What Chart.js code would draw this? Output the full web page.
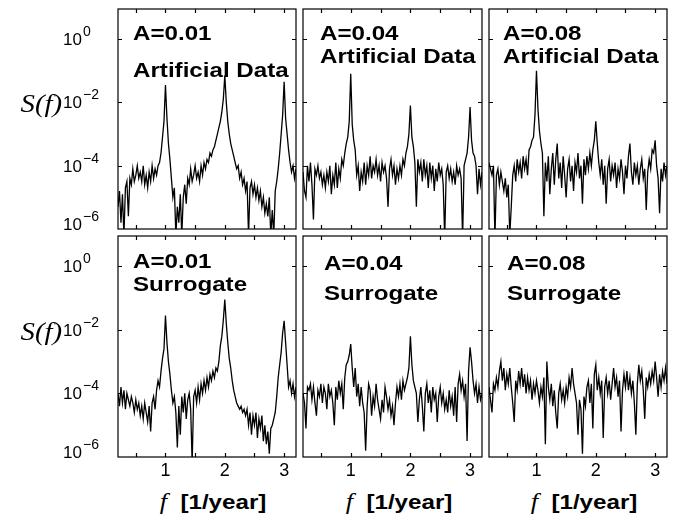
<!DOCTYPE html>
<html>
<head>
<meta charset="utf-8">
<script src="https://cdn.jsdelivr.net/npm/chart.js@4.4.1/dist/chart.umd.min.js"></script>
<style>
  html, body { margin: 0; padding: 0; background: #fff; }
  #wrap { position: relative; width: 675px; height: 518px; overflow: hidden; background: #fff; }
  canvas { position: absolute; }
  .note { position: absolute; font: bold 21px "Liberation Sans", Arial, sans-serif; line-height: 21px;
          white-space: nowrap; transform: scaleX(1.15); transform-origin: 0 0; color: #000; }
  .sf { position: absolute; font: italic 25px "Liberation Serif", serif; line-height: 25px;
        white-space: nowrap; transform: scaleX(1.15); transform-origin: 100% 0; color: #000; text-align: right; }
  .xt { position: absolute; width: 200px; text-align: center; font: bold 21px "Liberation Sans", Arial, sans-serif;
        line-height: 21px; white-space: nowrap; transform: scaleX(1.15); color: #000; }
  .xt i { font: italic 23px "Liberation Serif", serif; }
</style>
</head>
<body>
<div id="wrap"></div>
<script>
// frequency grid, 1/year
const freq = [
  0.200,0.225,0.250,0.275,0.300,0.325,0.350,0.375,0.400,0.425,
  0.450,0.475,0.500,0.525,0.550,0.575,0.600,0.625,0.650,0.675,
  0.700,0.725,0.750,0.775,0.800,0.825,0.850,0.875,0.900,0.925,
  0.950,0.975,1.000,1.025,1.050,1.075,1.100,1.125,1.150,1.175,
  1.200,1.225,1.250,1.275,1.300,1.325,1.350,1.375,1.400,1.425,
  1.450,1.475,1.500,1.525,1.550,1.575,1.600,1.625,1.650,1.675,
  1.700,1.725,1.750,1.775,1.800,1.825,1.850,1.875,1.900,1.925,
  1.950,1.975,2.000,2.025,2.050,2.075,2.100,2.125,2.150,2.175,
  2.200,2.225,2.250,2.275,2.300,2.325,2.350,2.375,2.400,2.425,
  2.450,2.475,2.500,2.525,2.550,2.575,2.600,2.625,2.650,2.675,
  2.700,2.725,2.750,2.775,2.800,2.825,2.850,2.875,2.900,2.925,
  2.950,2.975,3.000,3.025,3.050,3.075,3.100,3.125,3.150,3.175,
  3.200
];

// log10 S(f)
const artificial01 = [
  -5.3,-4.8,-5.8,-4.9,-6.2,-4.7,-4.5,-5.6,-4.4,-4.6,
  -4.1,-4.5,-4.3,-4.0,-4.4,-4.2,-4.5,-4.0,-4.6,-4.3,
  -4.7,-4.2,-4.5,-4.0,-4.4,-4.1,-4.3,-4.0,-3.9,-3.6,
  -3.1,-2.6,-1.45,-2.5,-3.3,-3.8,-4.4,-5.0,-4.7,-6.2,
  -5.3,-5.8,-4.9,-6.2,-5.0,-4.6,-5.2,-4.4,-4.6,-4.1,
  -4.5,-4.3,-4.0,-4.4,-4.2,-4.5,-4.0,-4.3,-3.9,-4.1,
  -3.8,-3.9,-3.6,-3.7,-3.5,-3.4,-3.2,-3.0,-2.8,-2.6,
  -2.3,-1.9,-1.15,-2.0,-2.6,-3.0,-3.3,-3.5,-3.7,-3.9,
  -4.1,-4.0,-4.4,-4.2,-4.6,-4.4,-4.8,-4.5,-6.2,-4.7,
  -4.5,-4.9,-4.6,-5.0,-4.7,-5.1,-4.8,-5.3,-5.0,-5.5,
  -5.2,-5.6,-5.0,-6.2,-5.4,-6.2,-4.8,-4.5,-4.1,-3.6,
  -3.0,-2.4,-1.35,-2.5,-3.0,-3.5,-3.9,-4.2,-4.0,-4.4,
  -4.1
];
const artificial04 = [
  -4.2,-4.8,-5.0,-4.0,-4.5,-3.9,-4.6,-5.7,-4.1,-4.3,
  -4.0,-4.4,-4.2,-4.6,-4.3,-4.7,-4.2,-4.5,-4.0,-4.9,
  -4.3,-4.6,-3.9,-4.7,-4.1,-4.4,-3.8,-4.0,-3.6,-3.3,
  -3.1,-2.6,-1.1,-2.7,-3.2,-3.5,-4.3,-4.0,-4.8,-4.2,
  -4.5,-3.9,-4.6,-4.0,-4.3,-3.7,-4.4,-4.0,-4.2,-3.8,
  -4.3,-4.0,-4.5,-3.9,-4.2,-4.0,-4.4,-5.3,-4.1,-3.8,
  -4.3,-4.0,-4.6,-4.1,-4.4,-4.0,-4.3,-3.8,-4.0,-3.6,
  -3.4,-3.0,-2.1,-3.1,-3.4,-3.9,-5.3,-3.8,-4.2,-3.9,
  -4.5,-3.8,-4.3,-4.0,-4.7,-3.9,-4.4,-4.0,-4.8,-4.1,
  -4.5,-3.9,-4.3,-4.1,-4.6,-6.3,-4.2,-4.0,-4.4,-4.1,
  -4.5,-4.2,-4.6,-4.0,-4.3,-4.1,-4.4,-6.3,-4.0,-3.8,
  -3.6,-3.1,-2.15,-3.2,-3.6,-3.7,-4.0,-4.9,-4.1,-4.6,
  -4.2
];
const artificial08 = [
  -3.9,-4.1,-4.3,-4.0,-6.3,-4.3,-4.1,-4.6,-4.2,-4.5,
  -4.8,-4.4,-5.0,-4.6,-6.2,-5.3,-4.3,-4.0,-4.5,-3.8,
  -4.2,-3.9,-4.4,-3.7,-4.1,-3.8,-4.3,-3.5,-3.4,-3.2,
  -3.1,-2.4,-1.0,-2.2,-2.9,-3.3,-3.6,-5.6,-3.9,-4.5,
  -3.7,-4.9,-4.1,-3.6,-4.6,-3.8,-3.3,-4.4,-3.9,-4.7,
  -3.7,-4.3,-5.0,-4.1,-3.8,-4.5,-4.0,-4.8,-3.9,-4.2,
  -3.6,-4.4,-4.0,-5.2,-3.8,-4.3,-3.7,-4.1,-3.6,-4.0,
  -3.5,-3.2,-2.6,-3.3,-3.9,-4.3,-3.8,-4.6,-4.0,-5.2,
  -4.1,-3.8,-4.5,-4.0,-4.3,-3.9,-4.7,-4.1,-4.4,-3.8,
  -4.2,-4.9,-4.0,-4.4,-3.7,-3.3,-4.2,-4.6,-3.9,-4.3,
  -4.0,-4.6,-4.1,-3.8,-4.4,-4.1,-5.4,-4.2,-3.8,-4.1,
  -3.5,-3.6,-3.2,-4.0,-4.4,-5.5,-4.1,-4.5,-3.9,-4.3,
  -4.0
];
const surrogate01 = [
  -4.0,-4.4,-3.8,-4.3,-3.9,-4.5,-4.0,-4.2,-4.4,-4.1,
  -4.3,-4.6,-4.2,-4.5,-4.3,-4.7,-4.4,-4.8,-4.3,-4.6,
  -4.9,-4.4,-5.2,-4.3,-4.1,-4.5,-3.9,-3.6,-3.8,-3.3,
  -2.9,-2.6,-1.55,-2.4,-3.0,-3.4,-3.9,-4.3,-4.1,-4.6,
  -5.7,-4.4,-5.3,-4.1,-4.6,-4.0,-4.8,-4.2,-4.0,-4.5,
  -6.2,-4.1,-3.9,-4.3,-3.8,-4.2,-3.7,-4.0,-3.6,-3.9,
  -3.5,-3.8,-3.4,-3.6,-3.3,-3.5,-3.2,-3.3,-3.0,-2.5,
  -2.2,-1.7,-1.05,-1.8,-2.4,-2.9,-3.2,-3.6,-3.9,-4.1,
  -4.3,-4.4,-4.5,-4.4,-4.6,-4.5,-4.7,-4.5,-5.0,-4.6,
  -5.3,-4.7,-5.0,-4.6,-5.4,-4.8,-5.1,-4.7,-5.5,-5.0,
  -5.6,-5.2,-5.9,-5.1,-5.0,-4.8,-4.6,-4.1,-3.5,-3.1,
  -2.7,-2.1,-1.72,-2.4,-3.1,-3.8,-3.6,-4.0,-3.7,-4.1,
  -3.8
];
const surrogate04 = [
  -4.0,-4.3,-5.1,-3.8,-3.9,-3.7,-4.2,-3.8,-4.3,-4.7,
  -3.9,-4.1,-3.7,-4.3,-3.8,-4.0,-4.5,-3.7,-4.1,-3.9,
  -4.3,-5.0,-3.8,-4.2,-3.6,-4.0,-3.7,-4.5,-3.5,-3.1,
  -3.0,-2.8,-2.45,-3.2,-3.8,-3.2,-4.1,-3.7,-4.4,-3.8,
  -4.3,-4.6,-5.8,-4.4,-3.7,-3.9,-4.7,-4.1,-4.4,-3.7,
  -4.2,-4.5,-4.8,-4.2,-4.6,-3.8,-4.1,-4.5,-4.2,-4.7,
  -4.4,-5.0,-4.3,-3.8,-4.1,-3.7,-4.2,-3.6,-3.9,-3.7,
  -3.5,-3.2,-2.2,-3.1,-3.6,-3.8,-4.0,-4.9,-4.2,-3.8,
  -4.4,-5.2,-4.0,-3.7,-4.3,-3.9,-4.6,-3.8,-4.2,-4.0,
  -4.9,-4.1,-3.8,-4.3,-4.0,-4.5,-4.2,-4.6,-3.9,-4.4,
  -4.1,-4.7,-3.8,-4.9,-3.7,-3.4,-3.9,-3.6,-4.1,-3.7,
  -5.5,-3.3,-2.55,-3.0,-3.6,-4.0,-3.7,-4.3,-3.8,-4.2,
  -4.0
];
const surrogate08 = [
  -3.8,-4.2,-4.6,-3.7,-3.9,-3.5,-3.8,-3.3,-3.0,-3.6,
  -3.2,-3.9,-3.4,-3.7,-3.2,-3.8,-4.3,-4.9,-3.6,-3.9,
  -3.3,-3.7,-3.2,-3.8,-3.4,-4.0,-3.5,-3.9,-3.6,-4.2,
  -3.7,-4.0,-3.6,-3.9,-4.3,-3.8,-4.1,-3.5,-5.6,-3.0,
  -3.8,-4.2,-3.7,-4.4,-3.9,-4.6,-5.1,-4.0,-3.7,-4.2,
  -3.9,-4.3,-3.8,-4.1,-3.5,-3.8,-3.2,-3.7,-4.0,-4.3,
  -5.3,-4.2,-4.5,-5.9,-4.1,-4.4,-3.8,-3.6,-4.3,-3.7,
  -5.1,-3.4,-3.1,-3.9,-3.5,-4.0,-3.6,-5.4,-3.8,-3.5,
  -4.0,-3.6,-4.2,-3.7,-3.2,-3.8,-3.5,-4.1,-3.6,-5.2,
  -3.9,-3.4,-3.8,-3.3,-3.9,-3.5,-4.0,-3.6,-4.3,-5.3,
  -3.7,-3.1,-3.6,-3.3,-3.9,-4.8,-3.5,-3.8,-3.4,-3.7,
  -3.3,-3.6,-3.0,-3.5,-4.1,-3.4,-3.8,-3.3,-3.6,-3.2,
  -3.7
];

const yTicks = [-6, -4, -2, 0];
const yTickExp = ['\u22126', '\u22124', '\u22122', '0'];
const yMarks = [-4, -2, 0];
const xTicks = [1, 2, 3];
const xMarks = [0.5, 1, 1.5, 2, 2.5, 3];

const panels = [
  { row: 0, col: 0, amp: 'A=0.01', kind: 'Artificial Data', values: artificial01 },
  { row: 0, col: 1, amp: 'A=0.04', kind: 'Artificial Data', values: artificial04 },
  { row: 0, col: 2, amp: 'A=0.08', kind: 'Artificial Data', values: artificial08 },
  { row: 1, col: 0, amp: 'A=0.01', kind: 'Surrogate', values: surrogate01 },
  { row: 1, col: 1, amp: 'A=0.04', kind: 'Surrogate', values: surrogate04 },
  { row: 1, col: 2, amp: 'A=0.08', kind: 'Surrogate', values: surrogate08 }
];

// page layout (pixels)
const colL = [118, 303, 489], colR = [296, 482, 667];
const rowT = [9, 236], rowB = [229, 457];
const notePos = [
  [133, 22, 59], [320, 22, 45], [503, 22, 45],
  [133, 250, 273], [324, 252, 282], [507, 252, 282]
];

Chart.defaults.font.family = '"Liberation Sans", Arial, sans-serif';
Chart.defaults.font.size = 18;
Chart.defaults.color = '#000';

// box round the plot with short inward ticks, as in the original figure
const framePlugin = {
  id: 'frame',
  afterDatasetsDraw(chart) {
    const { ctx, chartArea: a, scales: { x, y } } = chart;
    ctx.save();
    ctx.strokeStyle = '#000';
    ctx.lineWidth = 1.2;
    ctx.strokeRect(a.left, a.top, a.right - a.left, a.bottom - a.top);
    ctx.beginPath();
    xMarks.forEach(v => {
      const px = Math.round(x.getPixelForValue(v)) + 0.5;
      ctx.moveTo(px, a.top); ctx.lineTo(px, a.top + 4);
      ctx.moveTo(px, a.bottom); ctx.lineTo(px, a.bottom - 4);
    });
    yMarks.forEach(v => {
      const py = Math.round(y.getPixelForValue(v)) + 0.5;
      ctx.moveTo(a.left, py); ctx.lineTo(a.left + 4, py);
      ctx.moveTo(a.right, py); ctx.lineTo(a.right - 4, py);
    });
    ctx.stroke();

    // 10^n labels with a raised exponent, left column only
    if (chart.options.showPowers) {
      const fam = '"Liberation Sans", Arial, sans-serif';
      yTicks.forEach((v, i) => {
        const py = y.getPixelForValue(v) - (v === -6 ? 5 : 0);
        ctx.fillStyle = '#000';
        ctx.textAlign = 'left';
        ctx.textBaseline = 'alphabetic';
        ctx.font = '17px ' + fam;
        ctx.fillText('10', 63, py + 6);
        ctx.font = '14px ' + fam;
        ctx.fillText(yTickExp[i], 83, py - 3);
      });
    }
    ctx.restore();
  }
};

const wrap = document.getElementById('wrap');

panels.forEach((p, k) => {
  const first = p.col === 0;
  const bottom = p.row === 1;
  const left = first ? 0 : colL[p.col] - 2;
  const top = rowT[p.row] - 2;
  const padLeft = colL[p.col] - left;
  const xAxisH = bottom ? 30 : 0;
  const padBottom = bottom ? 0 : (first ? 12 : 2);
  const width = colR[p.col] + 2 - left;
  const height = rowB[p.row] - top + xAxisH + padBottom;

  const cv = document.createElement('canvas');
  cv.width = width; cv.height = height;
  cv.style.left = left + 'px'; cv.style.top = top + 'px';
  cv.style.width = width + 'px'; cv.style.height = height + 'px';
  wrap.appendChild(cv);

  new Chart(cv, {
    type: 'line',
    data: {
      datasets: [{
        data: freq.map((f, i) => ({ x: f, y: p.values[i] })),
        borderColor: '#000',
        borderWidth: 1.3,
        pointRadius: 0,
        tension: 0,
        fill: false
      }]
    },
    options: {
      responsive: false,
      animation: false,
      devicePixelRatio: 1,
      showPowers: first,
      layout: { padding: { left: padLeft, right: 2, top: 2, bottom: padBottom } },
      plugins: { legend: { display: false }, tooltip: { enabled: false } },
      scales: {
        x: {
          type: 'linear', min: 0.2, max: 3.2,
          display: bottom,
          grid: { display: false, drawTicks: false },
          border: { display: false },
          ticks: { padding: 3, maxRotation: 0, font: { size: 18 } },
          afterBuildTicks: s => { s.ticks = xTicks.map(v => ({ value: v })); },
          afterFit: s => { s.height = xAxisH; }
        },
        y: {
          type: 'linear', min: -6, max: 0.95,
          display: false,
          afterBuildTicks: s => { s.ticks = yTicks.map(v => ({ value: v })); }
        }
      }
    },
    plugins: [framePlugin]
  });

  const pos = notePos[k];
  [[p.amp, pos[1]], [p.kind, pos[2]]].forEach(([txt, y]) => {
    const d = document.createElement('div');
    d.className = 'note';
    d.textContent = txt;
    d.style.left = pos[0] + 'px';
    d.style.top = y + 'px';
    wrap.appendChild(d);
  });
});

// S(f) labels on the left column
[rowT[0] + 82, rowT[1] + 83].forEach(y => {
  const d = document.createElement('div');
  d.className = 'sf';
  d.textContent = 'S(f)';
  d.style.right = (675 - 62) + 'px';
  d.style.top = y + 'px';
  wrap.appendChild(d);
});

// f [1/year] under each column
colL.forEach((l, c) => {
  const d = document.createElement('div');
  d.className = 'xt';
  d.innerHTML = '<i>f</i>&nbsp;&nbsp;[1/year]';
  d.style.left = ((l + colR[c]) / 2 + 6 - 100) + 'px';
  d.style.top = '489px';
  wrap.appendChild(d);
});
</script>
</body>
</html>
